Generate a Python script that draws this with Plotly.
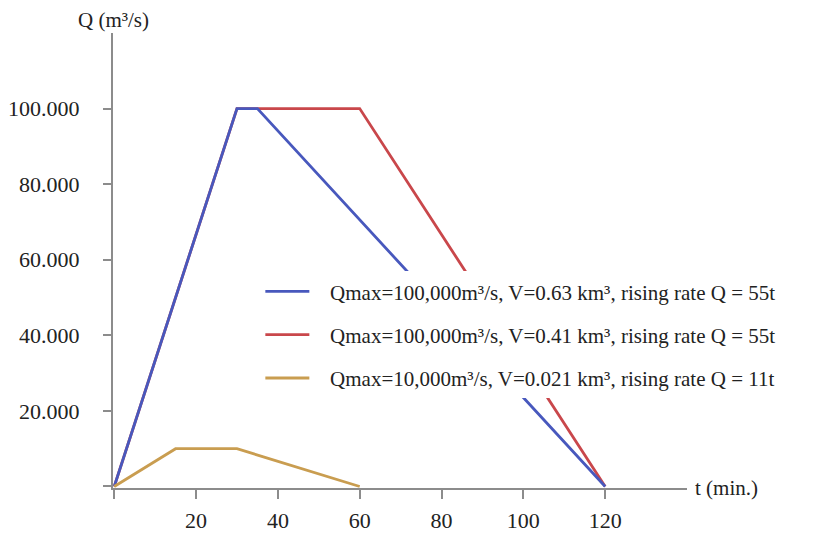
import plotly.graph_objects as go

# hydrograph data (t in minutes, Q in m3/s)
t_blue = [0, 30, 35, 120]
q_blue = [0, 100000, 100000, 0]
t_red = [0, 30, 60, 120]
q_red = [0, 100000, 100000, 0]
t_tan = [0, 15, 30, 60]
q_tan = [0, 10000, 10000, 0]

names = [
    "Qmax=100,000m³/s, V=0.63 km³, rising rate Q = 55t",
    "Qmax=100,000m³/s, V=0.41 km³, rising rate Q = 55t",
    "Qmax=10,000m³/s, V=0.021 km³, rising rate Q = 11t",
]
colors = ["#4858bd", "#c9474b", "#c99d50"]

x_ticks = [0, 20, 40, 60, 80, 100, 120]
x_labels = ["", "20", "40", "60", "80", "100", "120"]
y_ticks = [0, 20000, 40000, 60000, 80000, 100000]
y_labels = ["", "20.000", "40.000", "60.000", "80.000", "100.000"]

font = "Liberation Serif, Times New Roman, serif"
pad = "\u00a0" * 3  # gap between legend line and text


def main():
    fig = go.Figure()
    # red first so blue sits on top along the shared part
    series = [(t_red, q_red, 1), (t_blue, q_blue, 0), (t_tan, q_tan, 2)]
    for t, q, i in series:
        fig.add_trace(go.Scatter(
            x=t, y=q, mode="lines", name=pad + names[i],
            line=dict(color=colors[i], width=2.8),
            legendgroup=str(i), legendrank=i + 1,
        ))

    # page body has an 8px margin, so the figure is 8px smaller
    fig.update_layout(
        width=808, height=525,
        margin=dict(l=105, r=129, t=25, b=45, autoexpand=False),
        plot_bgcolor="white", paper_bgcolor="white",
        font=dict(family=font, size=22, color="#222222"),
        showlegend=True,
        legend=dict(
            x=0.2567, y=0.4764, xanchor="left", yanchor="top",
            bgcolor="white", borderwidth=0, itemwidth=44,
            font=dict(size=21), tracegroupgap=13,
        ),
        xaxis=dict(
            range=[-0.3, 140], showgrid=False, zeroline=False,
            showline=True, linecolor="#8c8c8c", linewidth=2,
            ticks="outside", ticklen=9, tickwidth=2, tickcolor="#8c8c8c",
            tickvals=x_ticks, ticktext=x_labels, automargin=False,
            ticklabelstandoff=3,
        ),
        yaxis=dict(
            range=[-400, 120000], showgrid=False, zeroline=False,
            showline=True, linecolor="#8c8c8c", linewidth=2,
            ticks="outside", ticklen=8, tickwidth=2, tickcolor="#8c8c8c",
            tickvals=y_ticks, ticktext=y_labels, automargin=False,
            ticklabelstandoff=19,
        ),
    )
    fig.add_annotation(text="Q (m³/s)", xref="paper", yref="paper",
                       x=0, y=1, yshift=-1, xanchor="center", yanchor="bottom",
                       showarrow=False, font=dict(size=21))
    fig.add_annotation(text="t (min.)", xref="paper", yref="paper",
                       x=1, y=0, xshift=6, xanchor="left", yanchor="middle",
                       showarrow=False, font=dict(size=21))

    fig.write_html("out.html")


if __name__ == "__main__":
    main()
